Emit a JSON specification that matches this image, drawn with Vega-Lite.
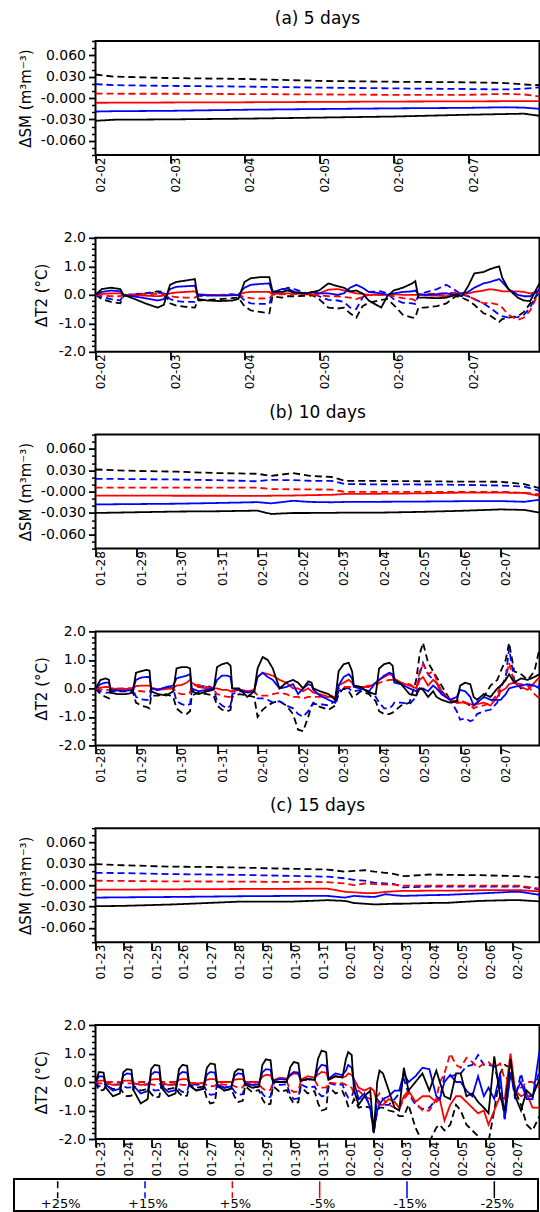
{
  "$schema": "https://vega.github.io/schema/vega-lite/v6.json",
  "background": "white",
  "padding": {"left": 13, "top": 9, "right": 0, "bottom": 0},
  "config": {
    "font": "DejaVu Sans",
    "view": {"stroke": "#000000", "strokeWidth": 2},
    "axis": {"grid": false, "domain": false, "tickColor": "#000000", "labelColor": "#000000", "titleColor": "#000000", "titleFontWeight": "normal"},
    "axisX": {"labelAngle": 270, "labelAlign": "right", "labelBaseline": "top", "labelPadding": -6, "tickSize": 8, "tickWidth": 1.8, "labelFontSize": 12, "labelFlush": false, "labelOverlap": false, "labelBound": false},
    "axisY": {"labelFontSize": 14, "labelPadding": 3, "tickWidth": 1.8, "titleFontSize": 15, "titlePadding": 7},
    "title": {"fontSize": 17, "fontWeight": "normal", "color": "#000000", "offset": 12, "frame": "group", "anchor": "middle"}
  },
  "datasets": {
    "smA": [
      {"t":"02-02 00","p25":0.033,"p15":0.0195,"p5":0.0063,"m5":-0.0067,"m15":-0.019,"m25":-0.032},
      {"t":"02-02 06","p25":0.030,"p15":0.018,"p5":0.006,"m5":-0.0066,"m15":-0.0185,"m25":-0.0305},
      {"t":"02-03 00","p25":0.028,"p15":0.017,"p5":0.006,"m5":-0.0063,"m15":-0.018,"m25":-0.030},
      {"t":"02-04 00","p25":0.0267,"p15":0.016,"p5":0.0055,"m5":-0.006,"m15":-0.0165,"m25":-0.029},
      {"t":"02-05 00","p25":0.024,"p15":0.0146,"p5":0.005,"m5":-0.0055,"m15":-0.0155,"m25":-0.0275},
      {"t":"02-06 00","p25":0.0228,"p15":0.0135,"p5":0.0044,"m5":-0.005,"m15":-0.0145,"m25":-0.026},
      {"t":"02-07 00","p25":0.022,"p15":0.0126,"p5":0.0045,"m5":-0.0047,"m15":-0.0138,"m25":-0.0235},
      {"t":"02-07 12","p25":0.021,"p15":0.012,"p5":0.0058,"m5":-0.0045,"m15":-0.013,"m25":-0.0225},
      {"t":"02-07 18","p25":0.019,"p15":0.013,"p5":0.005,"m5":-0.0045,"m15":-0.0135,"m25":-0.022},
      {"t":"02-07 23","p25":0.018,"p15":0.015,"p5":0.002,"m5":-0.0045,"m15":-0.0152,"m25":-0.025}
    ],
    "t2A": [
      {"t":"02-02 00","p25":0,"p15":0,"p5":0,"m5":0,"m15":0,"m25":0},
      {"t":"02-02 02","p25":-0.15,"p15":-0.08,"p5":-0.03,"m5":0.03,"m15":0.1,"m25":0.2},
      {"t":"02-02 05","p25":-0.25,"p15":-0.15,"p5":-0.05,"m5":0.05,"m15":0.15,"m25":0.25},
      {"t":"02-02 08","p25":-0.3,"p15":-0.2,"p5":-0.05,"m5":0.05,"m15":0.12,"m25":0.2},
      {"t":"02-02 09","p25":-0.05,"p15":-0.02,"p5":0,"m5":0,"m15":0,"m25":0},
      {"t":"02-02 12","p25":0,"p15":0.02,"p5":0.01,"m5":-0.01,"m15":-0.05,"m25":-0.12},
      {"t":"02-02 16","p25":0.05,"p15":0.05,"p5":0.02,"m5":-0.03,"m15":-0.12,"m25":-0.3},
      {"t":"02-02 20","p25":0.12,"p15":0.08,"p5":0.03,"m5":-0.05,"m15":-0.2,"m25":-0.45},
      {"t":"02-02 22","p25":0.1,"p15":0.05,"p5":0.02,"m5":-0.03,"m15":-0.15,"m25":-0.35},
      {"t":"02-03 00","p25":-0.3,"p15":-0.15,"p5":-0.05,"m5":0.05,"m15":0.2,"m25":0.35},
      {"t":"02-03 02","p25":-0.38,"p15":-0.22,"p5":-0.08,"m5":0.08,"m15":0.28,"m25":0.45},
      {"t":"02-03 05","p25":-0.42,"p15":-0.25,"p5":-0.1,"m5":0.1,"m15":0.3,"m25":0.5},
      {"t":"02-03 08","p25":-0.45,"p15":-0.25,"p5":-0.1,"m5":0.12,"m15":0.32,"m25":0.55},
      {"t":"02-03 09","p25":-0.2,"p15":-0.05,"p5":-0.02,"m5":0.02,"m15":0,"m25":-0.15},
      {"t":"02-03 12","p25":-0.18,"p15":-0.03,"p5":0,"m5":0,"m15":-0.02,"m25":-0.2},
      {"t":"02-03 16","p25":-0.15,"p15":0,"p5":0,"m5":0,"m15":-0.03,"m25":-0.22},
      {"t":"02-03 20","p25":-0.12,"p15":0.02,"p5":0,"m5":0,"m15":-0.02,"m25":-0.2},
      {"t":"02-03 22","p25":-0.1,"p15":0,"p5":0,"m5":0,"m15":0,"m25":-0.15},
      {"t":"02-04 00","p25":-0.4,"p15":-0.2,"p5":-0.08,"m5":0.08,"m15":0.25,"m25":0.45},
      {"t":"02-04 02","p25":-0.55,"p15":-0.3,"p5":-0.12,"m5":0.1,"m15":0.35,"m25":0.58},
      {"t":"02-04 05","p25":-0.6,"p15":-0.32,"p5":-0.13,"m5":0.1,"m15":0.38,"m25":0.62},
      {"t":"02-04 08","p25":-0.65,"p15":-0.32,"p5":-0.12,"m5":0.1,"m15":0.4,"m25":0.62},
      {"t":"02-04 09","p25":-0.05,"p15":0.05,"p5":0,"m5":0.02,"m15":0.08,"m25":0.12},
      {"t":"02-04 12","p25":-0.1,"p15":0.15,"p5":0.02,"m5":0.05,"m15":0.2,"m25":0.1},
      {"t":"02-04 14","p25":-0.05,"p15":0.25,"p5":0.03,"m5":0.05,"m15":0.22,"m25":0.15},
      {"t":"02-04 16","p25":-0.05,"p15":0.2,"p5":0.03,"m5":0.05,"m15":0.1,"m25":0.08},
      {"t":"02-04 20","p25":-0.03,"p15":0.05,"p5":0.02,"m5":0.02,"m15":0.05,"m25":0.05},
      {"t":"02-04 22","p25":-0.02,"p15":0.05,"p5":0,"m5":0.02,"m15":0.1,"m25":0.1},
      {"t":"02-05 00","p25":-0.15,"p15":-0.05,"p5":-0.02,"m5":0.05,"m15":0.05,"m25":0.15},
      {"t":"02-05 03","p25":-0.45,"p15":-0.18,"p5":-0.05,"m5":0.18,"m15":0.05,"m25":0.4},
      {"t":"02-05 06","p25":-0.48,"p15":-0.2,"p5":-0.05,"m5":0.2,"m15":0,"m25":0.3},
      {"t":"02-05 08","p25":-0.45,"p15":-0.25,"p5":-0.08,"m5":0.15,"m15":0.05,"m25":0.25},
      {"t":"02-05 10","p25":-0.65,"p15":-0.45,"p5":-0.1,"m5":0.1,"m15":0.25,"m25":0.12},
      {"t":"02-05 12","p25":-0.8,"p15":-0.5,"p5":-0.15,"m5":0.05,"m15":0.35,"m25":0.15},
      {"t":"02-05 14","p25":-0.4,"p15":-0.1,"p5":-0.08,"m5":0.03,"m15":0.25,"m25":0.05},
      {"t":"02-05 16","p25":-0.28,"p15":0.1,"p5":0,"m5":0,"m15":0.1,"m25":-0.2},
      {"t":"02-05 20","p25":-0.18,"p15":0.12,"p5":0,"m5":0,"m15":0.05,"m25":-0.45},
      {"t":"02-05 22","p25":-0.15,"p15":0.05,"p5":0,"m5":0,"m15":0,"m25":-0.05},
      {"t":"02-06 00","p25":-0.35,"p15":-0.15,"p5":-0.05,"m5":0.02,"m15":0.05,"m25":0.15},
      {"t":"02-06 03","p25":-0.7,"p15":-0.28,"p5":-0.12,"m5":0,"m15":0.1,"m25":0.25},
      {"t":"02-06 06","p25":-0.8,"p15":-0.3,"p5":-0.15,"m5":0,"m15":0.12,"m25":0.4},
      {"t":"02-06 07","p25":-0.8,"p15":-0.32,"p5":-0.2,"m5":0,"m15":0.15,"m25":0.48},
      {"t":"02-06 08","p25":-0.45,"p15":0,"p5":0,"m5":0,"m15":0.02,"m25":-0.1},
      {"t":"02-06 10","p25":-0.45,"p15":0.08,"p5":0.02,"m5":-0.02,"m15":0,"m25":-0.1},
      {"t":"02-06 14","p25":-0.4,"p15":0.2,"p5":0.05,"m5":-0.03,"m15":0.02,"m25":-0.12},
      {"t":"02-06 17","p25":-0.3,"p15":0.35,"p5":0.05,"m5":-0.05,"m15":0.05,"m25":-0.1},
      {"t":"02-06 20","p25":-0.05,"p15":0.15,"p5":0.08,"m5":0.03,"m15":0,"m25":0},
      {"t":"02-06 22","p25":-0.1,"p15":0,"p5":0.05,"m5":0.05,"m15":0.05,"m25":-0.05},
      {"t":"02-07 00","p25":-0.2,"p15":-0.05,"p5":-0.05,"m5":0.05,"m15":0.1,"m25":0.3},
      {"t":"02-07 02","p25":-0.35,"p15":-0.15,"p5":-0.15,"m5":0.1,"m15":0.25,"m25":0.75},
      {"t":"02-07 05","p25":-0.65,"p15":-0.3,"p5":-0.3,"m5":0.15,"m15":0.4,"m25":0.8},
      {"t":"02-07 07","p25":-0.72,"p15":-0.45,"p5":-0.28,"m5":0.2,"m15":0.45,"m25":0.9},
      {"t":"02-07 10","p25":-0.95,"p15":-0.7,"p5":-0.35,"m5":0.15,"m15":0.55,"m25":1.0},
      {"t":"02-07 11","p25":-0.85,"p15":-0.75,"p5":-0.45,"m5":0.12,"m15":0.45,"m25":0.6},
      {"t":"02-07 13","p25":-0.8,"p15":-0.8,"p5":-0.7,"m5":0.12,"m15":0.2,"m25":0.2},
      {"t":"02-07 16","p25":-0.75,"p15":-0.78,"p5":-0.88,"m5":0.12,"m15":0,"m25":-0.1},
      {"t":"02-07 18","p25":-0.6,"p15":-0.7,"p5":-0.8,"m5":0.1,"m15":-0.05,"m25":-0.2},
      {"t":"02-07 20","p25":-0.3,"p15":-0.45,"p5":-0.55,"m5":0.05,"m15":-0.05,"m25":-0.22},
      {"t":"02-07 22","p25":-0.05,"p15":0,"p5":-0.1,"m5":0.1,"m15":0.1,"m25":0.2},
      {"t":"02-07 23","p25":0.1,"p15":0.25,"p5":0.2,"m5":0.15,"m15":0.2,"m25":0.4}
    ],
    "smB": [
      {"t":"01-28 00","p25":0.031,"p15":0.018,"p5":0.0057,"m5":-0.0057,"m15":-0.018,"m25":-0.030},
      {"t":"01-29 00","p25":0.029,"p15":0.0175,"p5":0.0057,"m5":-0.0057,"m15":-0.0175,"m25":-0.029},
      {"t":"01-30 00","p25":0.028,"p15":0.017,"p5":0.0056,"m5":-0.0058,"m15":-0.017,"m25":-0.028},
      {"t":"01-31 00","p25":0.026,"p15":0.016,"p5":0.0055,"m5":-0.0058,"m15":-0.016,"m25":-0.0276},
      {"t":"02-01 00","p25":0.025,"p15":0.0145,"p5":0.0055,"m5":-0.006,"m15":-0.0148,"m25":-0.0267},
      {"t":"02-01 08","p25":0.022,"p15":0.0165,"p5":0.0035,"m5":-0.0058,"m15":-0.0165,"m25":-0.0314},
      {"t":"02-01 21","p25":0.026,"p15":0.016,"p5":0.0033,"m5":-0.0055,"m15":-0.0129,"m25":-0.030},
      {"t":"02-02 07","p25":0.022,"p15":0.0152,"p5":0.003,"m5":-0.005,"m15":-0.0145,"m25":-0.030},
      {"t":"02-02 20","p25":0.0205,"p15":0.015,"p5":0.0029,"m5":-0.0045,"m15":-0.015,"m25":-0.0298},
      {"t":"02-03 04","p25":0.015,"p15":0.0105,"p5":-0.0005,"m5":-0.0033,"m15":-0.0145,"m25":-0.0295},
      {"t":"02-04 00","p25":0.015,"p15":0.0102,"p5":-0.0005,"m5":-0.003,"m15":-0.0143,"m25":-0.0295},
      {"t":"02-05 00","p25":0.0145,"p15":0.010,"p5":-0.0005,"m5":-0.0025,"m15":-0.014,"m25":-0.0285},
      {"t":"02-06 00","p25":0.014,"p15":0.0095,"p5":-0.0003,"m5":-0.0015,"m15":-0.0135,"m25":-0.027},
      {"t":"02-07 00","p25":0.0138,"p15":0.0085,"p5":-0.0005,"m5":-0.0014,"m15":-0.0133,"m25":-0.025},
      {"t":"02-07 14","p25":0.0105,"p15":0.007,"p5":-0.0015,"m5":-0.002,"m15":-0.0143,"m25":-0.0257},
      {"t":"02-07 23","p25":0.005,"p15":0.001,"p5":-0.004,"m5":-0.006,"m15":-0.0114,"m25":-0.0295}
    ],
    "t2B": [
      {"t":"01-28 00","p25":0,"p15":0,"p5":0,"m5":0,"m15":0,"m25":0},
      {"t":"01-28 03","p25":-0.2,"p15":-0.1,"p5":-0.03,"m5":0.03,"m15":0.15,"m25":0.3},
      {"t":"01-28 06","p25":-0.3,"p15":-0.15,"p5":-0.05,"m5":0.05,"m15":0.2,"m25":0.35},
      {"t":"01-28 08","p25":-0.35,"p15":-0.15,"p5":-0.05,"m5":0.05,"m15":0.2,"m25":0.3},
      {"t":"01-28 09","p25":-0.1,"p15":-0.05,"p5":0,"m5":0,"m15":-0.05,"m25":-0.15},
      {"t":"01-28 13","p25":-0.1,"p15":-0.05,"p5":0,"m5":-0.02,"m15":-0.08,"m25":-0.2},
      {"t":"01-28 18","p25":-0.1,"p15":-0.02,"p5":0,"m5":-0.02,"m15":-0.08,"m25":-0.2},
      {"t":"01-28 22","p25":-0.1,"p15":0,"p5":0,"m5":0,"m15":-0.05,"m25":-0.15},
      {"t":"01-29 00","p25":-0.5,"p15":-0.3,"p5":-0.08,"m5":0.08,"m15":0.3,"m25":0.55},
      {"t":"01-29 03","p25":-0.6,"p15":-0.38,"p5":-0.1,"m5":0.1,"m15":0.38,"m25":0.6},
      {"t":"01-29 06","p25":-0.65,"p15":-0.4,"p5":-0.12,"m5":0.1,"m15":0.4,"m25":0.65},
      {"t":"01-29 08","p25":-0.7,"p15":-0.42,"p5":-0.12,"m5":0.1,"m15":0.4,"m25":0.62},
      {"t":"01-29 09","p25":-0.25,"p15":-0.1,"p5":-0.02,"m5":0.02,"m15":0,"m25":-0.1},
      {"t":"01-29 13","p25":-0.25,"p15":-0.05,"p5":-0.05,"m5":-0.03,"m15":-0.05,"m25":-0.2},
      {"t":"01-29 18","p25":-0.2,"p15":0.05,"p5":-0.02,"m5":-0.02,"m15":0.05,"m25":-0.25},
      {"t":"01-29 22","p25":-0.3,"p15":0,"p5":0,"m5":0.02,"m15":0.1,"m25":-0.1},
      {"t":"01-30 00","p25":-0.7,"p15":-0.45,"p5":-0.15,"m5":0.1,"m15":0.35,"m25":0.7},
      {"t":"01-30 03","p25":-0.85,"p15":-0.55,"p5":-0.2,"m5":0.12,"m15":0.4,"m25":0.75},
      {"t":"01-30 06","p25":-0.9,"p15":-0.6,"p5":-0.2,"m5":0.2,"m15":0.45,"m25":0.75},
      {"t":"01-30 08","p25":-0.8,"p15":-0.55,"p5":-0.15,"m5":0.3,"m15":0.5,"m25":0.7},
      {"t":"01-30 09","p25":-0.25,"p15":-0.1,"p5":0.1,"m5":0.2,"m15":0,"m25":-0.1},
      {"t":"01-30 13","p25":-0.15,"p15":0.05,"p5":0.12,"m5":0.05,"m15":-0.1,"m25":-0.2},
      {"t":"01-30 18","p25":-0.2,"p15":0.1,"p5":0.05,"m5":0,"m15":-0.05,"m25":-0.1},
      {"t":"01-30 22","p25":-0.25,"p15":0,"p5":-0.05,"m5":0,"m15":0,"m25":-0.05},
      {"t":"01-31 00","p25":-0.6,"p15":-0.45,"p5":-0.2,"m5":0,"m15":0.3,"m25":0.75},
      {"t":"01-31 03","p25":-0.75,"p15":-0.6,"p5":-0.25,"m5":-0.05,"m15":0.45,"m25":0.85},
      {"t":"01-31 06","p25":-0.8,"p15":-0.7,"p5":-0.3,"m5":-0.05,"m15":0.45,"m25":0.9},
      {"t":"01-31 08","p25":-0.75,"p15":-0.6,"p5":-0.3,"m5":-0.1,"m15":0.4,"m25":0.8},
      {"t":"01-31 09","p25":-0.3,"p15":-0.2,"p5":-0.1,"m5":-0.1,"m15":0,"m25":0},
      {"t":"01-31 13","p25":-0.2,"p15":-0.1,"p5":-0.05,"m5":-0.05,"m15":-0.05,"m25":0},
      {"t":"01-31 18","p25":-0.25,"p15":-0.1,"p5":-0.1,"m5":-0.1,"m15":-0.15,"m25":-0.3},
      {"t":"01-31 22","p25":-0.3,"p15":-0.1,"p5":-0.1,"m5":-0.05,"m15":-0.1,"m25":-0.1},
      {"t":"02-01 00","p25":-1.0,"p15":-0.35,"p5":-0.25,"m5":0.4,"m15":0.4,"m25":0.7},
      {"t":"02-01 03","p25":-0.75,"p15":-0.35,"p5":-0.25,"m5":0.55,"m15":0.55,"m25":1.1},
      {"t":"02-01 06","p25":-0.6,"p15":-0.4,"p5":-0.25,"m5":0.5,"m15":0.4,"m25":1.0},
      {"t":"02-01 09","p25":-0.5,"p15":-0.5,"p5":-0.2,"m5":0.45,"m15":0.3,"m25":0.7},
      {"t":"02-01 13","p25":-0.45,"p15":-0.45,"p5":-0.15,"m5":0.3,"m15":0,"m25":0},
      {"t":"02-01 17","p25":-0.6,"p15":-0.6,"p5":-0.2,"m5":0.2,"m15":0.05,"m25":0.2},
      {"t":"02-01 21","p25":-0.9,"p15":-0.7,"p5":-0.3,"m5":0,"m15":0.15,"m25":0.3},
      {"t":"02-02 00","p25":-1.45,"p15":-0.9,"p5":-0.3,"m5":0,"m15":-0.2,"m25":0.2},
      {"t":"02-02 03","p25":-1.5,"p15":-1.0,"p5":-0.35,"m5":-0.1,"m15":0,"m25":0},
      {"t":"02-02 06","p25":-1.0,"p15":-0.8,"p5":-0.3,"m5":0,"m15":0.15,"m25":0.25},
      {"t":"02-02 08","p25":-0.6,"p15":-0.6,"p5":-0.3,"m5":-0.1,"m15":0.1,"m25":0.2},
      {"t":"02-02 09","p25":-0.5,"p15":-0.55,"p5":-0.3,"m5":-0.15,"m15":-0.05,"m25":0},
      {"t":"02-02 13","p25":-0.65,"p15":-0.55,"p5":-0.3,"m5":-0.2,"m15":-0.25,"m25":-0.1},
      {"t":"02-02 18","p25":-0.75,"p15":-0.6,"p5":-0.3,"m5":-0.3,"m15":-0.4,"m25":-0.2},
      {"t":"02-02 22","p25":-0.6,"p15":-0.45,"p5":-0.2,"m5":-0.3,"m15":-0.5,"m25":-0.4},
      {"t":"02-03 00","p25":-0.2,"p15":-0.1,"p5":0,"m5":0.1,"m15":0.1,"m25":0.6},
      {"t":"02-03 03","p25":0,"p15":0,"p5":0.05,"m5":0.2,"m15":0.4,"m25":0.85},
      {"t":"02-03 06","p25":-0.1,"p15":0,"p5":0.05,"m5":0.3,"m15":0.5,"m25":0.9},
      {"t":"02-03 08","p25":-0.3,"p15":-0.1,"p5":0.05,"m5":0.2,"m15":0.35,"m25":0.6},
      {"t":"02-03 09","p25":-0.3,"p15":-0.1,"p5":0.05,"m5":0.1,"m15":0.05,"m25":0.1},
      {"t":"02-03 13","p25":-0.1,"p15":-0.05,"p5":0.05,"m5":0.05,"m15":0,"m25":0.05},
      {"t":"02-03 18","p25":-0.2,"p15":-0.1,"p5":0.1,"m5":0.05,"m15":-0.1,"m25":-0.15},
      {"t":"02-03 22","p25":-0.45,"p15":-0.3,"p5":0.1,"m5":0.2,"m15":0.2,"m25":-0.2},
      {"t":"02-04 00","p25":-0.8,"p15":-0.5,"p5":0.2,"m5":0.3,"m15":0.3,"m25":0.7},
      {"t":"02-04 03","p25":-0.9,"p15":-0.7,"p5":0.25,"m5":0.4,"m15":0.45,"m25":0.85},
      {"t":"02-04 06","p25":-0.9,"p15":-0.7,"p5":0.3,"m5":0.5,"m15":0.55,"m25":0.9},
      {"t":"02-04 08","p25":-0.85,"p15":-0.6,"p5":0.3,"m5":0.45,"m15":0.5,"m25":0.8},
      {"t":"02-04 09","p25":-0.8,"p15":-0.5,"p5":0.25,"m5":0.35,"m15":0.2,"m25":0.3},
      {"t":"02-04 13","p25":-0.6,"p15":-0.5,"p5":0.2,"m5":0.2,"m15":0.15,"m25":0.15},
      {"t":"02-04 18","p25":-0.5,"p15":-0.55,"p5":0.15,"m5":0.1,"m15":0,"m25":-0.2},
      {"t":"02-04 22","p25":0.3,"p15":-0.3,"p5":0,"m5":0,"m15":-0.1,"m25":-0.25},
      {"t":"02-05 00","p25":1.2,"p15":0.5,"p5":0.6,"m5":0.3,"m15":0,"m25":0},
      {"t":"02-05 02","p25":1.6,"p15":0.9,"p5":0.85,"m5":0.4,"m15":0,"m25":-0.05},
      {"t":"02-05 05","p25":0.9,"p15":0.5,"p5":0.5,"m5":0.1,"m15":-0.1,"m25":-0.3},
      {"t":"02-05 08","p25":0.6,"p15":0.3,"p5":0.6,"m5":0.3,"m15":0.1,"m25":-0.1},
      {"t":"02-05 10","p25":0.4,"p15":0.2,"p5":0.3,"m5":0.2,"m15":0,"m25":-0.3},
      {"t":"02-05 13","p25":0.1,"p15":-0.1,"p5":-0.1,"m5":-0.2,"m15":-0.2,"m25":-0.4},
      {"t":"02-05 18","p25":-0.4,"p15":-0.4,"p5":-0.4,"m5":-0.4,"m15":-0.4,"m25":-0.5},
      {"t":"02-05 22","p25":-0.5,"p15":-0.8,"p5":-0.45,"m5":-0.5,"m15":-0.3,"m25":-0.45},
      {"t":"02-06 00","p25":-0.5,"p15":-1.1,"p5":-0.4,"m5":-0.5,"m15":-0.05,"m25":0.1},
      {"t":"02-06 03","p25":-0.5,"p15":-1.05,"p5":-0.5,"m5":-0.5,"m15":-0.1,"m25":0.2},
      {"t":"02-06 06","p25":-0.6,"p15":-1.15,"p5":-0.6,"m5":-0.55,"m15":-0.3,"m25":0.15},
      {"t":"02-06 08","p25":-0.6,"p15":-1.1,"p5":-0.7,"m5":-0.6,"m15":-0.6,"m25":-0.3},
      {"t":"02-06 10","p25":-0.5,"p15":-0.9,"p5":-0.65,"m5":-0.55,"m15":-0.5,"m25":-0.4},
      {"t":"02-06 14","p25":-0.3,"p15":-0.8,"p5":-0.6,"m5":-0.5,"m15":-0.3,"m25":-0.2},
      {"t":"02-06 18","p25":0.1,"p15":-0.75,"p5":-0.5,"m5":-0.6,"m15":-0.4,"m25":-0.3},
      {"t":"02-06 22","p25":0.3,"p15":-0.5,"p5":-0.2,"m5":-0.3,"m15":-0.4,"m25":0},
      {"t":"02-07 00","p25":0.6,"p15":0,"p5":0.1,"m5":-0.1,"m15":-0.4,"m25":0.1},
      {"t":"02-07 03","p25":1.0,"p15":0.4,"p5":0.3,"m5":0,"m15":-0.2,"m25":0.3},
      {"t":"02-07 05","p25":1.6,"p15":1.4,"p5":0.9,"m5":0.15,"m15":0,"m25":0.5},
      {"t":"02-07 08","p25":0.6,"p15":0.3,"p5":0.2,"m5":0.2,"m15":0.05,"m25":0.2},
      {"t":"02-07 12","p25":0.5,"p15":0,"p5":0.15,"m5":0.05,"m15":0.1,"m25":0.35},
      {"t":"02-07 16","p25":0.3,"p15":0.1,"p5":0.1,"m5":-0.05,"m15":0.15,"m25":0.3},
      {"t":"02-07 20","p25":0.6,"p15":0.1,"p5":-0.2,"m5":0.2,"m15":0.1,"m25":0.4},
      {"t":"02-07 23","p25":1.4,"p15":0.1,"p5":-0.35,"m5":0.4,"m15":0,"m25":0.5}
    ],
    "smC": [
      {"t":"01-23 00","p25":0.0295,"p15":0.0174,"p5":0.0063,"m5":-0.0063,"m15":-0.0174,"m25":-0.0295},
      {"t":"01-24 00","p25":0.028,"p15":0.017,"p5":0.006,"m5":-0.0062,"m15":-0.017,"m25":-0.029},
      {"t":"01-25 19","p25":0.026,"p15":0.0155,"p5":0.0053,"m5":-0.0058,"m15":-0.0165,"m25":-0.027},
      {"t":"01-27 00","p25":0.0257,"p15":0.015,"p5":0.0052,"m5":-0.0055,"m15":-0.016,"m25":-0.025},
      {"t":"01-28 05","p25":0.0247,"p15":0.0145,"p5":0.005,"m5":-0.0053,"m15":-0.0155,"m25":-0.023},
      {"t":"01-30 02","p25":0.023,"p15":0.013,"p5":0.0046,"m5":-0.005,"m15":-0.015,"m25":-0.023},
      {"t":"01-31 08","p25":0.022,"p15":0.012,"p5":0.0044,"m5":-0.0048,"m15":-0.015,"m25":-0.021},
      {"t":"01-31 23","p25":0.019,"p15":0.0097,"p5":0.0025,"m5":-0.0092,"m15":-0.0174,"m25":-0.022},
      {"t":"02-01 07","p25":0.020,"p15":0.0075,"p5":0.0,"m5":-0.010,"m15":-0.015,"m25":-0.025},
      {"t":"02-01 16","p25":0.021,"p15":0.0063,"p5":0.0024,"m5":-0.011,"m15":-0.016,"m25":-0.026},
      {"t":"02-02 01","p25":0.019,"p15":0.0034,"p5":0.0015,"m5":-0.011,"m15":-0.0165,"m25":-0.027},
      {"t":"02-02 10","p25":0.0174,"p15":0.0025,"p5":0.001,"m5":-0.0095,"m15":-0.0126,"m25":-0.0265},
      {"t":"02-02 17","p25":0.016,"p15":0.002,"p5":0.001,"m5":-0.0087,"m15":-0.014,"m25":-0.026},
      {"t":"02-03 01","p25":0.0126,"p15":-0.003,"p5":-0.0005,"m5":-0.008,"m15":-0.015,"m25":-0.026},
      {"t":"02-04 00","p25":0.015,"p15":-0.002,"p5":-0.0005,"m5":-0.0077,"m15":-0.014,"m25":-0.025},
      {"t":"02-04 16","p25":0.0145,"p15":-0.002,"p5":-0.0005,"m5":-0.0077,"m15":-0.0135,"m25":-0.0247},
      {"t":"02-05 20","p25":0.014,"p15":-0.002,"p5":-0.0005,"m5":-0.007,"m15":-0.0115,"m25":-0.022},
      {"t":"02-06 21","p25":0.013,"p15":-0.002,"p5":-0.0005,"m5":-0.0068,"m15":-0.0095,"m25":-0.021},
      {"t":"02-07 06","p25":0.0126,"p15":-0.002,"p5":-0.0008,"m5":-0.007,"m15":-0.0092,"m25":-0.021},
      {"t":"02-07 23","p25":0.011,"p15":-0.006,"p5":-0.0048,"m5":-0.0087,"m15":-0.0135,"m25":-0.0227}
    ],
    "t2C": [
      {"t":"01-23 00","p25":0,"p15":0,"p5":0,"m5":0,"m15":0,"m25":0},
      {"t":"01-23 03","p25":-0.3,"p15":-0.15,"p5":-0.05,"m5":0.05,"m15":0.2,"m25":0.35},
      {"t":"01-23 07","p25":-0.28,"p15":-0.14,"p5":-0.05,"m5":0.05,"m15":0.19,"m25":0.33},
      {"t":"01-23 09","p25":-0.12,"p15":-0.05,"p5":0,"m5":-0.04,"m15":-0.1,"m25":-0.2},
      {"t":"01-23 15","p25":-0.25,"p15":-0.1,"p5":0,"m5":-0.1,"m15":-0.3,"m25":-0.5},
      {"t":"01-23 21","p25":-0.2,"p15":-0.08,"p5":0,"m5":-0.08,"m15":-0.24,"m25":-0.4},
      {"t":"01-24 00","p25":-0.38,"p15":-0.15,"p5":-0.04,"m5":0.04,"m15":0.22,"m25":0.34},
      {"t":"01-24 03","p25":-0.5,"p15":-0.2,"p5":-0.05,"m5":0.05,"m15":0.3,"m25":0.45},
      {"t":"01-24 07","p25":-0.48,"p15":-0.19,"p5":-0.05,"m5":0.05,"m15":0.28,"m25":0.43},
      {"t":"01-24 09","p25":-0.15,"p15":-0.05,"p5":0,"m5":-0.04,"m15":-0.15,"m25":-0.3},
      {"t":"01-24 15","p25":-0.3,"p15":-0.1,"p5":0,"m5":-0.1,"m15":-0.4,"m25":-0.75},
      {"t":"01-24 21","p25":-0.24,"p15":-0.08,"p5":0,"m5":-0.08,"m15":-0.32,"m25":-0.6},
      {"t":"01-25 00","p25":-0.41,"p15":-0.22,"p5":-0.08,"m5":0.08,"m15":0.26,"m25":0.45},
      {"t":"01-25 03","p25":-0.55,"p15":-0.3,"p5":-0.1,"m5":0.1,"m15":0.35,"m25":0.6},
      {"t":"01-25 07","p25":-0.52,"p15":-0.28,"p5":-0.1,"m5":0.1,"m15":0.33,"m25":0.57},
      {"t":"01-25 09","p25":-0.1,"p15":-0.05,"p5":0,"m5":-0.04,"m15":-0.14,"m25":-0.2},
      {"t":"01-25 15","p25":-0.25,"p15":-0.1,"p5":0,"m5":-0.1,"m15":-0.35,"m25":-0.5},
      {"t":"01-25 21","p25":-0.2,"p15":-0.08,"p5":0,"m5":-0.08,"m15":-0.28,"m25":-0.4},
      {"t":"01-26 00","p25":-0.38,"p15":-0.26,"p5":-0.08,"m5":0.08,"m15":0.26,"m25":0.45},
      {"t":"01-26 03","p25":-0.5,"p15":-0.35,"p5":-0.1,"m5":0.1,"m15":0.35,"m25":0.6},
      {"t":"01-26 07","p25":-0.48,"p15":-0.33,"p5":-0.1,"m5":0.1,"m15":0.33,"m25":0.57},
      {"t":"01-26 09","p25":-0.08,"p15":-0.04,"p5":-0.02,"m5":-0.02,"m15":-0.12,"m25":-0.12},
      {"t":"01-26 15","p25":-0.2,"p15":-0.1,"p5":-0.05,"m5":-0.05,"m15":-0.3,"m25":-0.3},
      {"t":"01-26 21","p25":-0.16,"p15":-0.08,"p5":-0.04,"m5":-0.04,"m15":-0.24,"m25":-0.24},
      {"t":"01-27 00","p25":-0.56,"p15":-0.34,"p5":-0.11,"m5":0.08,"m15":0.26,"m25":0.49},
      {"t":"01-27 03","p25":-0.75,"p15":-0.45,"p5":-0.15,"m5":0.1,"m15":0.35,"m25":0.65},
      {"t":"01-27 07","p25":-0.71,"p15":-0.43,"p5":-0.14,"m5":0.1,"m15":0.33,"m25":0.62},
      {"t":"01-27 09","p25":-0.12,"p15":-0.08,"p5":-0.04,"m5":0,"m15":-0.08,"m25":-0.12},
      {"t":"01-27 15","p25":-0.3,"p15":-0.2,"p5":-0.1,"m5":0,"m15":-0.2,"m25":-0.3},
      {"t":"01-27 21","p25":-0.24,"p15":-0.16,"p5":-0.08,"m5":0,"m15":-0.16,"m25":-0.24},
      {"t":"01-28 00","p25":-0.52,"p15":-0.34,"p5":-0.15,"m5":0.08,"m15":0.22,"m25":0.34},
      {"t":"01-28 03","p25":-0.7,"p15":-0.45,"p5":-0.2,"m5":0.1,"m15":0.3,"m25":0.45},
      {"t":"01-28 07","p25":-0.66,"p15":-0.43,"p5":-0.19,"m5":0.1,"m15":0.28,"m25":0.43},
      {"t":"01-28 09","p25":-0.14,"p15":-0.08,"p5":-0.04,"m5":0,"m15":-0.04,"m25":-0.08},
      {"t":"01-28 15","p25":-0.35,"p15":-0.2,"p5":-0.1,"m5":0,"m15":-0.1,"m25":-0.2},
      {"t":"01-28 21","p25":-0.28,"p15":-0.16,"p5":-0.08,"m5":0,"m15":-0.08,"m25":-0.16},
      {"t":"01-29 00","p25":-0.6,"p15":-0.41,"p5":-0.22,"m5":0.19,"m15":0.34,"m25":0.6},
      {"t":"01-29 03","p25":-0.8,"p15":-0.55,"p5":-0.3,"m5":0.25,"m15":0.45,"m25":0.8},
      {"t":"01-29 07","p25":-0.76,"p15":-0.52,"p5":-0.28,"m5":0.24,"m15":0.43,"m25":0.76},
      {"t":"01-29 09","p25":-0.14,"p15":-0.04,"p5":0,"m5":0.06,"m15":0.04,"m25":0},
      {"t":"01-29 15","p25":-0.35,"p15":-0.1,"p5":0,"m5":0.15,"m15":0.1,"m25":0},
      {"t":"01-29 21","p25":-0.28,"p15":-0.08,"p5":0,"m5":0.12,"m15":0.08,"m25":0},
      {"t":"01-30 00","p25":-0.56,"p15":-0.45,"p5":-0.26,"m5":0.22,"m15":0.26,"m25":0.52},
      {"t":"01-30 03","p25":-0.75,"p15":-0.6,"p5":-0.35,"m5":0.3,"m15":0.35,"m25":0.7},
      {"t":"01-30 07","p25":-0.71,"p15":-0.57,"p5":-0.33,"m5":0.28,"m15":0.33,"m25":0.66},
      {"t":"01-30 09","p25":-0.16,"p15":-0.08,"p5":0.04,"m5":0.08,"m15":0.04,"m25":0.04},
      {"t":"01-30 15","p25":-0.4,"p15":-0.2,"p5":0.1,"m5":0.2,"m15":0.1,"m25":0.1},
      {"t":"01-30 21","p25":-0.32,"p15":-0.16,"p5":0.08,"m5":0.16,"m15":0.08,"m25":0.08},
      {"t":"01-31 00","p25":-0.75,"p15":-0.38,"p5":-0.15,"m5":0.26,"m15":0.45,"m25":0.82},
      {"t":"01-31 03","p25":-1.0,"p15":-0.5,"p5":-0.2,"m5":0.35,"m15":0.6,"m25":1.1},
      {"t":"01-31 07","p25":-0.95,"p15":-0.48,"p5":-0.19,"m5":0.33,"m15":0.57,"m25":1.05},
      {"t":"01-31 09","p25":-0.16,"p15":-0.04,"p5":-0.02,"m5":0.08,"m15":0.12,"m25":0.08},
      {"t":"01-31 15","p25":-0.4,"p15":-0.1,"p5":-0.05,"m5":0.2,"m15":0.3,"m25":0.2},
      {"t":"01-31 21","p25":-0.32,"p15":-0.08,"p5":-0.04,"m5":0.16,"m15":0.24,"m25":0.16},
      {"t":"02-01 00","p25":-0.6,"p15":-0.4,"p5":-0.1,"m5":0.2,"m15":0.4,"m25":0.8},
      {"t":"02-01 02","p25":-0.85,"p15":-0.55,"p5":-0.15,"m5":0.3,"m15":0.6,"m25":1.05},
      {"t":"02-01 05","p25":-0.8,"p15":-0.5,"p5":-0.2,"m5":0.25,"m15":0.5,"m25":0.95},
      {"t":"02-01 07","p25":-0.6,"p15":-0.3,"p5":-0.4,"m5":0.1,"m15":0,"m25":-0.3},
      {"t":"02-01 11","p25":-0.9,"p15":-0.6,"p5":-0.3,"m5":-0.2,"m15":-0.6,"m25":-0.8},
      {"t":"02-01 16","p25":-0.85,"p15":-0.5,"p5":-0.5,"m5":-0.3,"m15":-0.4,"m25":-0.5},
      {"t":"02-01 21","p25":-0.9,"p15":-0.8,"p5":-0.6,"m5":-0.2,"m15":-0.9,"m25":-0.3},
      {"t":"02-02 00","p25":-1.8,"p15":-1.7,"p5":-0.6,"m5":-0.3,"m15":-1.75,"m25":-1.8},
      {"t":"02-02 03","p25":-1.0,"p15":-0.6,"p5":-0.5,"m5":-0.7,"m15":-1.0,"m25":0},
      {"t":"02-02 05","p25":-0.9,"p15":-0.7,"p5":-0.4,"m5":-0.8,"m15":-0.8,"m25":0.4},
      {"t":"02-02 08","p25":-0.9,"p15":-0.8,"p5":-0.6,"m5":-0.8,"m15":-0.6,"m25":0.3},
      {"t":"02-02 13","p25":-1.0,"p15":-0.8,"p5":-0.8,"m5":-0.6,"m15":-0.5,"m25":-0.3},
      {"t":"02-02 18","p25":-1.05,"p15":-0.6,"p5":-0.9,"m5":-0.7,"m15":-0.3,"m25":-0.9},
      {"t":"02-02 22","p25":-1.2,"p15":-0.4,"p5":-0.95,"m5":-0.9,"m15":-0.3,"m25":-1.0},
      {"t":"02-03 02","p25":-1.2,"p15":0.1,"p5":-0.6,"m5":-0.5,"m15":0.3,"m25":0.5},
      {"t":"02-03 06","p25":-0.8,"p15":-0.4,"p5":-0.4,"m5":-0.3,"m15":0,"m25":-0.3},
      {"t":"02-03 12","p25":-1.6,"p15":-0.8,"p5":-0.7,"m5":-0.7,"m15":0.2,"m25":0},
      {"t":"02-03 18","p25":-2.1,"p15":-0.95,"p5":-1.0,"m5":-0.5,"m15":0.5,"m25":0.3},
      {"t":"02-04 00","p25":-2.1,"p15":-0.9,"p5":-1.0,"m5":-0.5,"m15":0.45,"m25":-0.3},
      {"t":"02-04 06","p25":-1.6,"p15":-0.6,"p5":-0.6,"m5":-0.7,"m15":-0.5,"m25":0.4},
      {"t":"02-04 09","p25":-1.5,"p15":-0.6,"p5":0,"m5":-0.6,"m15":-0.6,"m25":0},
      {"t":"02-04 13","p25":-1.7,"p15":0.2,"p5":0.3,"m5":-1.35,"m15":0,"m25":-0.5},
      {"t":"02-04 18","p25":-1.5,"p15":0.2,"p5":1.0,"m5":-0.8,"m15":0.25,"m25":-0.6},
      {"t":"02-04 23","p25":-0.8,"p15":0.25,"p5":0.6,"m5":-0.5,"m15":0,"m25":0.3},
      {"t":"02-05 03","p25":-1.0,"p15":0.3,"p5":0.5,"m5":-0.5,"m15":0,"m25":0.3},
      {"t":"02-05 08","p25":-1.5,"p15":0.55,"p5":0.85,"m5":-0.7,"m15":-0.3,"m25":-0.5},
      {"t":"02-05 13","p25":-1.7,"p15":0.6,"p5":0.7,"m5":-0.9,"m15":-0.5,"m25":-0.4},
      {"t":"02-05 18","p25":-1.9,"p15":0.95,"p5":0.5,"m5":-1.1,"m15":0.2,"m25":-0.7},
      {"t":"02-05 23","p25":-2.1,"p15":0.6,"p5":0.65,"m5":-1.0,"m15":-0.5,"m25":-0.9},
      {"t":"02-06 03","p25":-2.1,"p15":0.6,"p5":0.7,"m5":-1.5,"m15":-0.2,"m25":-1.1},
      {"t":"02-06 08","p25":-1.0,"p15":0.55,"p5":0.5,"m5":-1.0,"m15":-0.6,"m25":0.9},
      {"t":"02-06 13","p25":0.3,"p15":-0.2,"p5":0.65,"m5":-0.5,"m15":0.3,"m25":-0.5},
      {"t":"02-06 17","p25":0.6,"p15":-1.3,"p5":0.1,"m5":-0.6,"m15":-1.3,"m25":-1.0},
      {"t":"02-06 22","p25":0.5,"p15":0.4,"p5":0.2,"m5":1.0,"m15":0.3,"m25":0.8},
      {"t":"02-07 02","p25":-0.3,"p15":-0.6,"p5":-0.2,"m5":-0.3,"m15":-0.4,"m25":-0.5},
      {"t":"02-07 07","p25":-0.8,"p15":0.3,"p5":-0.2,"m5":-0.5,"m15":0,"m25":-1.0},
      {"t":"02-07 12","p25":-1.5,"p15":-0.5,"p5":0,"m5":-0.4,"m15":-0.6,"m25":-0.3},
      {"t":"02-07 17","p25":-1.7,"p15":-0.5,"p5":0,"m5":-0.9,"m15":-0.6,"m25":-0.5},
      {"t":"02-07 23","p25":-1.2,"p15":0.4,"p5":-0.2,"m5":-0.9,"m15":1.1,"m25":0.1}
    ],
    "legendItems": [
      {"s":"p25","label":"+25%"},
      {"s":"p15","label":"+15%"},
      {"s":"p5","label":"+5%"},
      {"s":"m5","label":"-5%"},
      {"s":"m15","label":"-15%"},
      {"s":"m25","label":"-25%"}
    ]
  },
  "spacing": 1,
  "vconcat": [
    {
      "spacing": 1.5,
      "hconcat": [
        {"width": 1, "height": 1, "view": {"stroke": null}, "data": {"values": []}, "mark": "point"},
        {
          "spacing": 82.8,
          "bounds": "flush",
          "vconcat": [
            {
              "title": "(a) 5 days",
              "width": 444, "height": 114,
              "data": {"name": "smA", "format": {"parse": {"t": "date:'%m-%d %H'"}}},
              "transform": [{"fold": ["p25","p15","p5","m5","m15","m25"], "as": ["s","v"]}],
              "layer": [
                {"mark": {"type": "line", "strokeWidth": 1.8, "clip": true},
                 "encoding": {
                   "x": {"field": "t", "type": "temporal", "scale": {"domain": [{"year":1900,"month":2,"date":2,"hours":0},{"year":1900,"month":2,"date":7,"hours":23}], "nice": false}, "axis": {"format": "%m-%d", "tickCount": {"interval": "day", "step": 1}, "title": null}},
                   "y": {"field": "v", "type": "quantitative", "scale": {"domain": [-0.08, 0.08], "nice": false, "zero": false}, "axis": {"orient": "left", "values": [-0.06,-0.03,0,0.03,0.06], "tickSize": 7, "labelExpr": "datum.value > 0.0001 ? format(datum.value, '.3f') : (datum.value < -0.0001 ? '-' + format(-datum.value, '.3f') : '-0.000')", "title": "ΔSM (m³m⁻³)"}},
                   "color": {"field": "s", "type": "nominal", "scale": {"domain": ["p25","p15","p5","m5","m15","m25"], "range": ["#000000","#0000ff","#ff0000","#ff0000","#0000ff","#000000"]}, "legend": null},
                   "strokeDash": {"field": "s", "type": "nominal", "scale": {"domain": ["p25","p15","p5","m5","m15","m25"], "range": [[7,4],[7,4],[7,4],[1,0],[1,0],[1,0]]}, "legend": null}
                 }},
                {"mark": {"type": "point", "opacity": 0},
                 "encoding": {"y": {"field": "v", "type": "quantitative", "axis": {"orient": "left", "values": [-0.08,-0.07,-0.05,-0.04,-0.02,-0.01,0.01,0.02,0.04,0.05,0.07,0.08], "tickSize": 4, "tickWidth": 1.5, "labels": false, "title": null}}}}
              ],
              "resolve": {"axis": {"y": "independent"}}
            },
            {
              "width": 444, "height": 114,
              "data": {"name": "t2A", "format": {"parse": {"t": "date:'%m-%d %H'"}}},
              "transform": [{"fold": ["p25","p15","p5","m5","m15","m25"], "as": ["s","v"]}],
              "layer": [
                {"mark": {"type": "line", "strokeWidth": 1.8, "clip": true},
                 "encoding": {
                   "x": {"field": "t", "type": "temporal", "scale": {"domain": [{"year":1900,"month":2,"date":2,"hours":0},{"year":1900,"month":2,"date":7,"hours":23}], "nice": false}, "axis": {"format": "%m-%d", "tickCount": {"interval": "day", "step": 1}, "title": null}},
                   "y": {"field": "v", "type": "quantitative", "scale": {"domain": [-2, 2], "nice": false, "zero": false}, "axis": {"orient": "left", "values": [-2,-1,0,1,2], "tickSize": 7, "labelExpr": "datum.value < -0.01 ? '-' + format(-datum.value, '.1f') : format(datum.value, '.1f')", "title": "ΔT2 (°C)", "titlePadding": 9}},
                   "color": {"field": "s", "type": "nominal", "scale": {"domain": ["p25","p15","p5","m5","m15","m25"], "range": ["#000000","#0000ff","#ff0000","#ff0000","#0000ff","#000000"]}, "legend": null},
                   "strokeDash": {"field": "s", "type": "nominal", "scale": {"domain": ["p25","p15","p5","m5","m15","m25"], "range": [[7,4],[7,4],[7,4],[1,0],[1,0],[1,0]]}, "legend": null}
                 }},
                {"mark": {"type": "point", "opacity": 0},
                 "encoding": {"y": {"field": "v", "type": "quantitative", "axis": {"orient": "left", "values": [-1.8,-1.6,-1.4,-1.2,-0.8,-0.6,-0.4,-0.2,0.2,0.4,0.6,0.8,1.2,1.4,1.6,1.8], "tickSize": 4, "tickWidth": 1.5, "labels": false, "title": null}}}}
              ],
              "resolve": {"axis": {"y": "independent"}}
            },
            {
              "title": "(b) 10 days",
              "width": 444, "height": 114,
              "data": {"name": "smB", "format": {"parse": {"t": "date:'%m-%d %H'"}}},
              "transform": [{"fold": ["p25","p15","p5","m5","m15","m25"], "as": ["s","v"]}],
              "layer": [
                {"mark": {"type": "line", "strokeWidth": 1.8, "clip": true},
                 "encoding": {
                   "x": {"field": "t", "type": "temporal", "scale": {"domain": [{"year":1900,"month":1,"date":28,"hours":0},{"year":1900,"month":2,"date":7,"hours":23}], "nice": false}, "axis": {"format": "%m-%d", "tickCount": {"interval": "day", "step": 1}, "title": null}},
                   "y": {"field": "v", "type": "quantitative", "scale": {"domain": [-0.08, 0.08], "nice": false, "zero": false}, "axis": {"orient": "left", "values": [-0.06,-0.03,0,0.03,0.06], "tickSize": 7, "labelExpr": "datum.value > 0.0001 ? format(datum.value, '.3f') : (datum.value < -0.0001 ? '-' + format(-datum.value, '.3f') : '-0.000')", "title": "ΔSM (m³m⁻³)"}},
                   "color": {"field": "s", "type": "nominal", "scale": {"domain": ["p25","p15","p5","m5","m15","m25"], "range": ["#000000","#0000ff","#ff0000","#ff0000","#0000ff","#000000"]}, "legend": null},
                   "strokeDash": {"field": "s", "type": "nominal", "scale": {"domain": ["p25","p15","p5","m5","m15","m25"], "range": [[7,4],[7,4],[7,4],[1,0],[1,0],[1,0]]}, "legend": null}
                 }},
                {"mark": {"type": "point", "opacity": 0},
                 "encoding": {"y": {"field": "v", "type": "quantitative", "axis": {"orient": "left", "values": [-0.08,-0.07,-0.05,-0.04,-0.02,-0.01,0.01,0.02,0.04,0.05,0.07,0.08], "tickSize": 4, "tickWidth": 1.5, "labels": false, "title": null}}}}
              ],
              "resolve": {"axis": {"y": "independent"}}
            },
            {
              "width": 444, "height": 114,
              "data": {"name": "t2B", "format": {"parse": {"t": "date:'%m-%d %H'"}}},
              "transform": [{"fold": ["p25","p15","p5","m5","m15","m25"], "as": ["s","v"]}],
              "layer": [
                {"mark": {"type": "line", "strokeWidth": 1.8, "clip": true},
                 "encoding": {
                   "x": {"field": "t", "type": "temporal", "scale": {"domain": [{"year":1900,"month":1,"date":28,"hours":0},{"year":1900,"month":2,"date":7,"hours":23}], "nice": false}, "axis": {"format": "%m-%d", "tickCount": {"interval": "day", "step": 1}, "title": null}},
                   "y": {"field": "v", "type": "quantitative", "scale": {"domain": [-2, 2], "nice": false, "zero": false}, "axis": {"orient": "left", "values": [-2,-1,0,1,2], "tickSize": 7, "labelExpr": "datum.value < -0.01 ? '-' + format(-datum.value, '.1f') : format(datum.value, '.1f')", "title": "ΔT2 (°C)", "titlePadding": 9}},
                   "color": {"field": "s", "type": "nominal", "scale": {"domain": ["p25","p15","p5","m5","m15","m25"], "range": ["#000000","#0000ff","#ff0000","#ff0000","#0000ff","#000000"]}, "legend": null},
                   "strokeDash": {"field": "s", "type": "nominal", "scale": {"domain": ["p25","p15","p5","m5","m15","m25"], "range": [[7,4],[7,4],[7,4],[1,0],[1,0],[1,0]]}, "legend": null}
                 }},
                {"mark": {"type": "point", "opacity": 0},
                 "encoding": {"y": {"field": "v", "type": "quantitative", "axis": {"orient": "left", "values": [-1.8,-1.6,-1.4,-1.2,-0.8,-0.6,-0.4,-0.2,0.2,0.4,0.6,0.8,1.2,1.4,1.6,1.8], "tickSize": 4, "tickWidth": 1.5, "labels": false, "title": null}}}}
              ],
              "resolve": {"axis": {"y": "independent"}}
            },
            {
              "title": "(c) 15 days",
              "width": 444, "height": 114,
              "data": {"name": "smC", "format": {"parse": {"t": "date:'%m-%d %H'"}}},
              "transform": [{"fold": ["p25","p15","p5","m5","m15","m25"], "as": ["s","v"]}],
              "layer": [
                {"mark": {"type": "line", "strokeWidth": 1.8, "clip": true},
                 "encoding": {
                   "x": {"field": "t", "type": "temporal", "scale": {"domain": [{"year":1900,"month":1,"date":23,"hours":0},{"year":1900,"month":2,"date":7,"hours":23}], "nice": false}, "axis": {"format": "%m-%d", "tickCount": {"interval": "day", "step": 1}, "title": null}},
                   "y": {"field": "v", "type": "quantitative", "scale": {"domain": [-0.08, 0.08], "nice": false, "zero": false}, "axis": {"orient": "left", "values": [-0.06,-0.03,0,0.03,0.06], "tickSize": 7, "labelExpr": "datum.value > 0.0001 ? format(datum.value, '.3f') : (datum.value < -0.0001 ? '-' + format(-datum.value, '.3f') : '-0.000')", "title": "ΔSM (m³m⁻³)"}},
                   "color": {"field": "s", "type": "nominal", "scale": {"domain": ["p25","p15","p5","m5","m15","m25"], "range": ["#000000","#0000ff","#ff0000","#ff0000","#0000ff","#000000"]}, "legend": null},
                   "strokeDash": {"field": "s", "type": "nominal", "scale": {"domain": ["p25","p15","p5","m5","m15","m25"], "range": [[7,4],[7,4],[7,4],[1,0],[1,0],[1,0]]}, "legend": null}
                 }},
                {"mark": {"type": "point", "opacity": 0},
                 "encoding": {"y": {"field": "v", "type": "quantitative", "axis": {"orient": "left", "values": [-0.08,-0.07,-0.05,-0.04,-0.02,-0.01,0.01,0.02,0.04,0.05,0.07,0.08], "tickSize": 4, "tickWidth": 1.5, "labels": false, "title": null}}}}
              ],
              "resolve": {"axis": {"y": "independent"}}
            },
            {
              "width": 444, "height": 114,
              "data": {"name": "t2C", "format": {"parse": {"t": "date:'%m-%d %H'"}}},
              "transform": [{"fold": ["p25","p15","p5","m5","m15","m25"], "as": ["s","v"]}],
              "layer": [
                {"mark": {"type": "line", "strokeWidth": 1.8, "clip": true},
                 "encoding": {
                   "x": {"field": "t", "type": "temporal", "scale": {"domain": [{"year":1900,"month":1,"date":23,"hours":0},{"year":1900,"month":2,"date":7,"hours":23}], "nice": false}, "axis": {"format": "%m-%d", "tickCount": {"interval": "day", "step": 1}, "title": null}},
                   "y": {"field": "v", "type": "quantitative", "scale": {"domain": [-2, 2], "nice": false, "zero": false}, "axis": {"orient": "left", "values": [-2,-1,0,1,2], "tickSize": 7, "labelExpr": "datum.value < -0.01 ? '-' + format(-datum.value, '.1f') : format(datum.value, '.1f')", "title": "ΔT2 (°C)", "titlePadding": 9}},
                   "color": {"field": "s", "type": "nominal", "scale": {"domain": ["p25","p15","p5","m5","m15","m25"], "range": ["#000000","#0000ff","#ff0000","#ff0000","#0000ff","#000000"]}, "legend": null},
                   "strokeDash": {"field": "s", "type": "nominal", "scale": {"domain": ["p25","p15","p5","m5","m15","m25"], "range": [[7,4],[7,4],[7,4],[1,0],[1,0],[1,0]]}, "legend": null}
                 }},
                {"mark": {"type": "point", "opacity": 0},
                 "encoding": {"y": {"field": "v", "type": "quantitative", "axis": {"orient": "left", "values": [-1.8,-1.6,-1.4,-1.2,-0.8,-0.6,-0.4,-0.2,0.2,0.4,0.6,0.8,1.2,1.4,1.6,1.8], "tickSize": 4, "tickWidth": 1.5, "labels": false, "title": null}}}}
              ],
              "resolve": {"axis": {"y": "independent"}}
            }
          ]
        }
      ]
    },
    {
      "width": 524, "height": 32,
      "data": {"name": "legendItems"},
      "encoding": {"x": {"field": "label", "type": "nominal", "sort": null, "scale": {"type": "point", "padding": 0.5}, "axis": null}},
      "layer": [
        {"mark": {"type": "rule", "strokeWidth": 1.5},
         "encoding": {
           "y": {"datum": 0.93, "type": "quantitative", "scale": {"domain": [0, 1]}, "axis": null},
           "y2": {"datum": 0.4},
           "color": {"field": "s", "type": "nominal", "scale": {"domain": ["p25","p15","p5","m5","m15","m25"], "range": ["#000000","#0000ff","#ff0000","#ff0000","#0000ff","#000000"]}, "legend": null},
           "strokeDash": {"field": "s", "type": "nominal", "scale": {"domain": ["p25","p15","p5","m5","m15","m25"], "range": [[7,4],[7,4],[7,4],[1,0],[1,0],[1,0]]}, "legend": null}
         }},
        {"mark": {"type": "text", "fontSize": 13, "dx": 3, "baseline": "middle", "color": "#000000"},
         "encoding": {
           "y": {"datum": 0.21, "type": "quantitative"},
           "text": {"field": "label"}
         }}
      ]
    }
  ]
}
